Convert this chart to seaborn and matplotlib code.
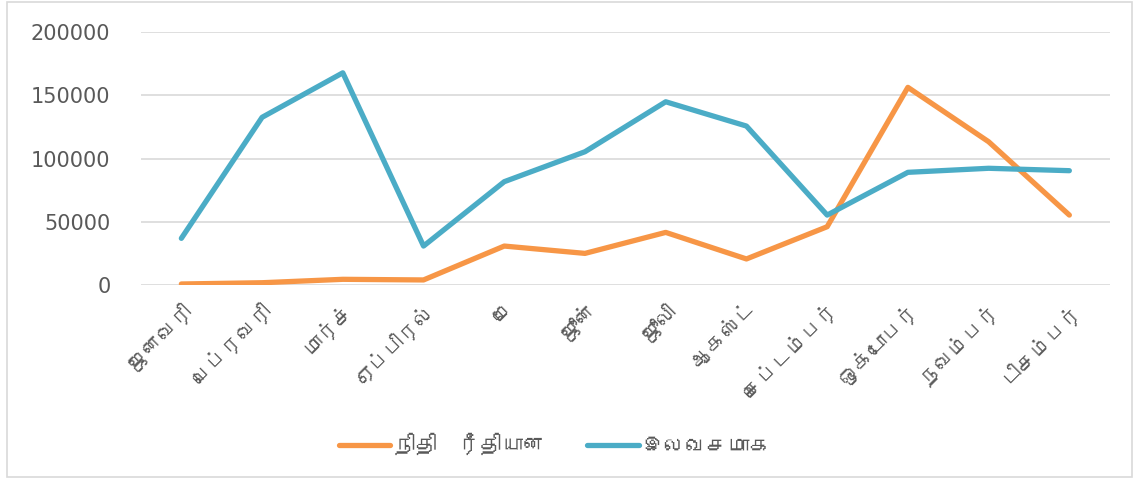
import matplotlib
matplotlib.use('Agg')
import matplotlib.pyplot as plt
from matplotlib import font_manager
from matplotlib.ft2font import FT2Font
from matplotlib.patches import Rectangle
import seaborn as sns
import pandas as pd

# Monthly values
months = ['ஜனவரி', 'பெப்ரவரி', 'மார்ச்', 'ஏப்பிரல்', 'மே', 'ஜூன்',
          'ஜூலி', 'ஆகஸ்ட்', 'செப்டம்பர்', 'ஒக்டோபர்', 'நவம்பர்', 'டிசம்பர்']
financial = [800, 1800, 4500, 4000, 30800, 25000, 41600, 20600, 46100, 156300, 113300, 55300]
free = [36900, 132600, 167800, 30800, 81700, 105400, 144900, 125700, 55300, 89100, 92300, 90400]
series_names = ['நிதி  ரீதியான', 'இலவசமாக']
y_ticks = [0, 50000, 100000, 150000, 200000]

df = pd.DataFrame({
    'month': months * 2,
    'idx': list(range(12)) * 2,
    'value': financial + free,
    'series': [series_names[0]] * 12 + [series_names[1]] * 12,
})

# look for an installed font that actually has Tamil glyphs
tamil_family = None
for f in font_manager.fontManager.ttflist:
    try:
        if 0x0B9C in FT2Font(f.fname).get_charmap():
            tamil_family = f.name
            break
    except Exception:
        pass

sns.set_theme(style='white')
families = ([tamil_family] if tamil_family else []) + ['DejaVu Sans']
plt.rcParams['font.family'] = families

fig = plt.figure(figsize=(11.37, 4.79), dpi=100)
ax = fig.add_axes([0.124, 0.405, 0.852, 0.528])

palette = {series_names[0]: '#F79646', series_names[1]: '#4BACC6'}
sns.lineplot(data=df, x='idx', y='value', hue='series', palette=palette,
             linewidth=3.8, ax=ax, legend=True, sort=False)
for line in ax.get_lines():
    line.set_solid_capstyle('round')
    line.set_solid_joinstyle('round')

ax.set_xlim(-0.5, 11.5)
ax.set_ylim(0, 200000)
ax.set_yticks(y_ticks)
ax.set_yticklabels([str(t) for t in y_ticks], fontsize=15, color='#595959', family=['DejaVu Sans'])
ax.set_xticks(range(12))
ax.set_xticklabels(months, rotation=45, ha='right', rotation_mode='anchor',
                   fontsize=15, color='#595959')
ax.tick_params(axis='x', length=0, pad=10)
ax.tick_params(axis='y', length=0, pad=22)
ax.set_xlabel('')
ax.set_ylabel('')
ax.grid(axis='y', color='#D9D9D9', linewidth=1.2)
ax.set_axisbelow(True)
for s in ax.spines.values():
    s.set_visible(False)

handles, labels = ax.get_legend_handles_labels()
ax.get_legend().remove()
leg = fig.legend(handles, labels, loc='center', bbox_to_anchor=(0.488, 0.073),
                 ncol=2, frameon=False, fontsize=15.5, handlelength=2.4,
                 handletextpad=0.15, columnspacing=2.0)
for t in leg.get_texts():
    t.set_color('#595959')

fig.patches.append(Rectangle((0.006, 0.005), 0.99, 0.99, transform=fig.transFigure,
                             fill=False, edgecolor='#D9D9D9', linewidth=1.2))

fig.savefig('out.png', dpi=100)
